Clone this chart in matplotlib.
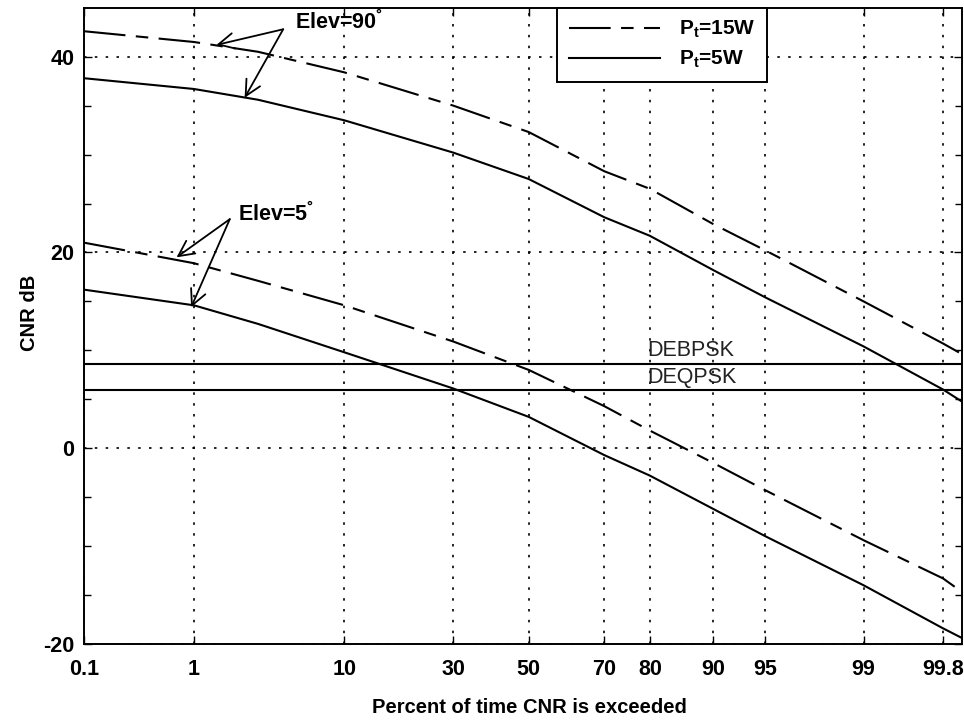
from statistics import NormalDist
import numpy as np
import matplotlib
matplotlib.use('Agg')
import matplotlib.pyplot as plt

plt.rcParams['font.family'] = ['Liberation Sans', 'DejaVu Sans']
plt.rcParams['mathtext.fontset'] = 'custom'
plt.rcParams['mathtext.rm'] = 'Liberation Sans:bold'
plt.rcParams['mathtext.it'] = 'Liberation Sans:bold'
plt.rcParams['mathtext.bf'] = 'Liberation Sans:bold'
plt.rcParams['axes.unicode_minus'] = False

# percent of time CNR is exceeded
pct = [0.1, 1, 3, 10, 30, 50, 70, 80, 90, 95, 99, 99.8, 99.87]
# CNR (dB)
cnr_15w_el90 = [42.6, 41.5, 40.5, 38.4, 35.0, 32.3, 28.3, 26.5, 22.9, 20.2, 15.0, 10.7, 9.6]
cnr_5w_el90 = [37.8, 36.7, 35.6, 33.5, 30.2, 27.5, 23.6, 21.7, 18.2, 15.4, 10.4, 6.0, 4.75]
cnr_15w_el5 = [21.0, 18.9, 17.1, 14.6, 10.9, 8.0, 4.3, 1.8, -1.5, -4.3, -9.4, -13.3, -14.7]
cnr_5w_el5 = [16.2, 14.6, 12.7, 9.8, 6.1, 3.2, -0.7, -2.8, -6.2, -9.0, -14.0, -18.4, -19.4]

# required CNR thresholds
thr_names = ['DEBPSK', 'DEQPSK']
thr_values = [8.6, 5.9]

xtick_vals = [0.1, 1, 10, 30, 50, 70, 80, 90, 95, 99, 99.8]
xtick_labels = ['0.1', '1', '10', '30', '50', '70', '80', '90', '95', '99', '99.8']

nd = NormalDist()
_ppf = np.vectorize(nd.inv_cdf, otypes=[float])
_cdf = np.vectorize(nd.cdf, otypes=[float])


def fwd(p):
    p = np.clip(np.asarray(p, dtype=float) / 100.0, 1e-9, 1 - 1e-9)
    return _ppf(p)


def inv(z):
    return _cdf(np.asarray(z, dtype=float)) * 100.0


fig = plt.figure(figsize=(9.64, 7.23), dpi=100)
ax = fig.add_axes([0.0871, 0.1093, 0.911, 0.880])
ax.set_xscale('function', functions=(fwd, inv))

dash = (0, (20, 5, 6, 5))
l1, = ax.plot(pct, cnr_15w_el90, color='black', lw=1.5, linestyle=dash)
l2, = ax.plot(pct, cnr_5w_el90, color='black', lw=1.5)
ax.plot(pct, cnr_15w_el5, color='black', lw=1.5, linestyle=dash)
ax.plot(pct, cnr_5w_el5, color='black', lw=1.5)

for name, v in zip(thr_names, thr_values):
    ax.axhline(v, color='black', lw=1.5)
    ax.text(79.5, v + 0.3, name, fontsize=15.5, va='bottom', ha='left', color='#222222')

ax.set_xlim(0.1, 99.87)
ax.set_ylim(-20, 45)
ax.set_xticks(xtick_vals)
ax.set_xticklabels(xtick_labels)
ax.set_xticks([], minor=True)
ax.set_yticks([-20, 0, 20, 40])
ax.set_yticks(np.arange(-20, 45, 5), minor=True)

for lab in ax.get_xticklabels():
    lab.set_fontweight('bold')
for lab in ax.get_yticklabels():
    lab.set_fontweight('bold')
ax.tick_params(axis='x', which='major', direction='in', length=6, width=1,
               labelsize=15.5, pad=11, top=True)
ax.tick_params(axis='y', which='major', direction='in', length=6, width=1,
               labelsize=15.5, pad=7, right=True)
ax.tick_params(axis='y', which='minor', direction='in', length=5, width=1, right=True)

ax.grid(True, which='major', color='black', linestyle=(0, (1.5, 5)), lw=1.2)

for s in ax.spines.values():
    s.set_linewidth(1.4)

ax.set_xlabel('Percent of time CNR is exceeded', fontsize=14.5, fontweight='bold', va='center')
ax.xaxis.set_label_coords(0.507, -0.1006)
ax.set_ylabel('CNR dB', fontsize=14.5, fontweight='bold', va='center')
ax.yaxis.set_label_coords(-0.0615, 0.52)

arrow = dict(arrowstyle='->', color='black', lw=1.3, mutation_scale=28, shrinkA=0, shrinkB=0)
ax.text(5.2, 43.6, 'Elev=90$^{°}$', fontsize=15.5, fontweight='bold', va='center', ha='left')
ax.annotate('', xy=(1.5, 41.2), xytext=(4.4, 42.8), arrowprops=arrow)
ax.annotate('', xy=(2.42, 35.8), xytext=(4.4, 42.8), arrowprops=arrow)
ax.text(2.17, 23.9, 'Elev=5$^{°}$', fontsize=15.5, fontweight='bold', va='center', ha='left')
ax.annotate('', xy=(0.72, 19.5), xytext=(1.89, 23.4), arrowprops=arrow)
ax.annotate('', xy=(0.95, 14.4), xytext=(1.89, 23.4), arrowprops=arrow)

leg = ax.legend([l1, l2], ['P$_t$=15W', 'P$_t$=5W'], loc='upper left',
                bbox_to_anchor=(0.539, 1.0), borderaxespad=0, fancybox=False,
                framealpha=1, edgecolor='black', handlelength=4.4,
                handletextpad=0.9, borderpad=0.55, labelspacing=0.4,
                prop={'size': 15, 'weight': 'bold'})
leg.get_frame().set_linewidth(1.4)

fig.savefig('out.png', dpi=100, facecolor='white')
